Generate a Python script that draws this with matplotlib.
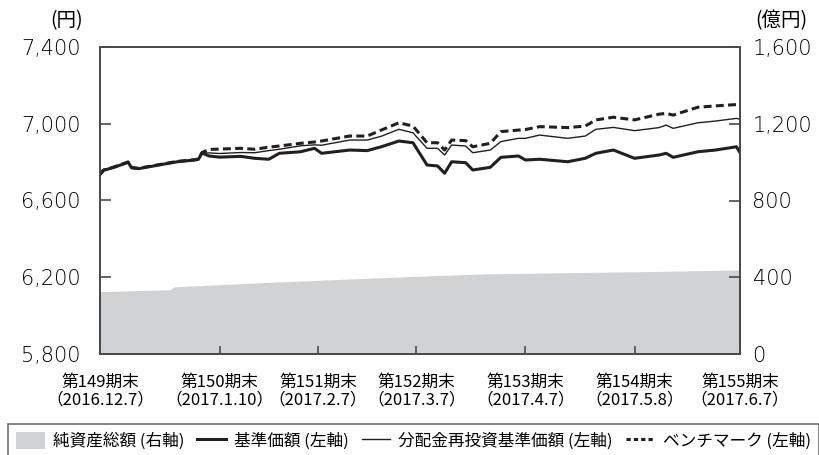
import pandas as pd
import matplotlib
matplotlib.use("Agg")
import matplotlib.pyplot as plt
from matplotlib.patches import Patch
from matplotlib.lines import Line2D

plt.rcParams['font.family'] = ['Noto Sans CJK JP', 'DejaVu Sans']

# 基準価額・分配金再投資・ベンチマーク（円）
dates = ['2016-12-07', '2016-12-08', '2016-12-11', '2016-12-15', '2016-12-16', '2016-12-18',
         '2016-12-25', '2016-12-29', '2017-01-03', '2017-01-04', '2017-01-05', '2017-01-07',
         '2017-01-10', '2017-01-16', '2017-01-20', '2017-01-24', '2017-01-27', '2017-02-02',
         '2017-02-06', '2017-02-08', '2017-02-16', '2017-02-21', '2017-02-25', '2017-03-02',
         '2017-03-06', '2017-03-10', '2017-03-13', '2017-03-15', '2017-03-17', '2017-03-21',
         '2017-03-23', '2017-03-28', '2017-03-31', '2017-04-05', '2017-04-07', '2017-04-11',
         '2017-04-19', '2017-04-24', '2017-04-27', '2017-05-02', '2017-05-08', '2017-05-15',
         '2017-05-17', '2017-05-19', '2017-05-26', '2017-05-31', '2017-06-06', '2017-06-07']
nav = [6735, 6757, 6773, 6799, 6770, 6766, 6789, 6802, 6811, 6815, 6848, 6832,
       6826, 6830, 6820, 6815, 6846, 6854, 6872, 6846, 6863, 6860, 6880, 6910,
       6901, 6785, 6780, 6742, 6802, 6797, 6759, 6773, 6825, 6832, 6811, 6815,
       6802, 6820, 6846, 6863, 6820, 6837, 6846, 6825, 6854, 6863, 6880, 6849]
reinvest = [6735, 6757, 6773, 6799, 6770, 6766, 6789, 6802, 6811, 6815, 6848, 6848,
            6845, 6850, 6849, 6860, 6867, 6885, 6890, 6888, 6915, 6915, 6935, 6971,
            6953, 6872, 6872, 6837, 6889, 6884, 6849, 6863, 6907, 6924, 6924, 6941,
            6924, 6936, 6971, 6981, 6964, 6980, 6993, 6976, 7005, 7014, 7028, 7023]
bench = [6737, 6759, 6775, 6801, 6772, 6768, 6791, 6804, 6813, 6817, 6850, 6866,
         6868, 6872, 6867, 6878, 6884, 6898, 6905, 6910, 6936, 6936, 6967, 7005,
         6988, 6901, 6901, 6863, 6915, 6912, 6880, 6898, 6959, 6967, 6970, 6985,
         6980, 6988, 7020, 7034, 7020, 7050, 7054, 7045, 7086, 7093, 7100, 7103]

# 純資産総額（億円）
asset_dates = ['2016-12-07', '2016-12-27', '2016-12-28', '2017-01-26', '2017-03-07',
               '2017-03-27', '2017-05-06', '2017-06-07']
assets = [325, 335, 350, 375, 405, 418, 428, 438]

tick_dates = ['2016-12-07', '2017-01-10', '2017-02-07', '2017-03-07',
              '2017-04-07', '2017-05-08', '2017-06-07']
tick_labels = ['第149期末\n（2016.12.7）', '第150期末\n（2017.1.10）', '第151期末\n（2017.2.7）',
               '第152期末\n（2017.3.7）', '第153期末\n（2017.4.7）', '第154期末\n（2017.5.8）',
               '第155期末\n（2017.6.7）']

dates = pd.to_datetime(dates)
asset_dates = pd.to_datetime(asset_dates)
tick_dates = pd.to_datetime(tick_dates)

ink = '#231f20'
grey = '#d1d2d4'
spine_c = '#4a4a4a'

fig = plt.figure(figsize=(8.19, 4.55), dpi=100)
ax = fig.add_axes([100/819, 1-354/455, 640/819, 307/455])
ax2 = ax.twinx()
ax.set_zorder(ax2.get_zorder() + 1)
ax.patch.set_visible(False)

ax2.fill_between(asset_dates, 0, assets, color=grey, linewidth=0)
ax2.set_ylim(0, 1600)
ax2.set_yticks([0, 400, 800, 1200, 1600])
ax2.set_yticklabels(['0', '400', '800', '1,200', '1,600'])

ax.plot(dates, reinvest, color=ink, lw=1.0)
ax.plot(dates, nav, color=ink, lw=2.2)
ax.plot(dates, bench, color=ink, lw=2.2, dashes=(2.6, 1.4))

ax.set_ylim(5800, 7400)
ax.set_yticks([5800, 6200, 6600, 7000, 7400])
ax.set_yticklabels(['5,800', '6,200', '6,600', '7,000', '7,400'])
ax.set_xlim(tick_dates[0], tick_dates[-1])
ax.set_xticks(tick_dates)
ax.set_xticklabels(tick_labels, fontsize=12, linespacing=1.05)

for a in (ax, ax2):
    for s in a.spines.values():
        s.set_color(spine_c)
        s.set_linewidth(1.3)
ax.tick_params(axis='y', direction='in', length=8, width=1.2, color=spine_c, labelsize=15, pad=14)
ax2.tick_params(axis='y', direction='in', length=8, width=1.2, color=spine_c, labelsize=15, pad=9)
ax.tick_params(axis='x', direction='in', length=6, width=1.2, color=spine_c, pad=14)
for lbl in ax.get_yticklabels() + ax2.get_yticklabels():
    lbl.set_fontfamily('DejaVu Sans')
    lbl.set_fontweight('light')

fig.text(67/819, 1-21/455, '(円)', fontsize=14, ha='center', va='center')
fig.text(781/819, 1-21/455, '(億円)', fontsize=14, ha='center', va='center')

handles = [Patch(facecolor=grey, edgecolor='none'),
           Line2D([], [], color=ink, lw=2.2),
           Line2D([], [], color=ink, lw=1.0),
           Line2D([], [], color=ink, lw=2.2, dashes=(1.4, 1.0))]
labels = ['純資産総額 (右軸)', '基準価額 (左軸)', '分配金再投資基準価額 (左軸)', 'ベンチマーク (左軸)']
leg = fig.legend(handles, labels, loc='upper left',
                 bbox_to_anchor=(8/819, 1-424/455, 811/819, 0.001), mode='expand',
                 ncol=4, fontsize=12, frameon=True, fancybox=False, edgecolor=spine_c,
                 handlelength=1.7, handleheight=1.2, columnspacing=1.0, handletextpad=0.5,
                 borderpad=0.5, borderaxespad=0)
leg.get_frame().set_linewidth(1.2)

fig.savefig('out.png', dpi=100)
